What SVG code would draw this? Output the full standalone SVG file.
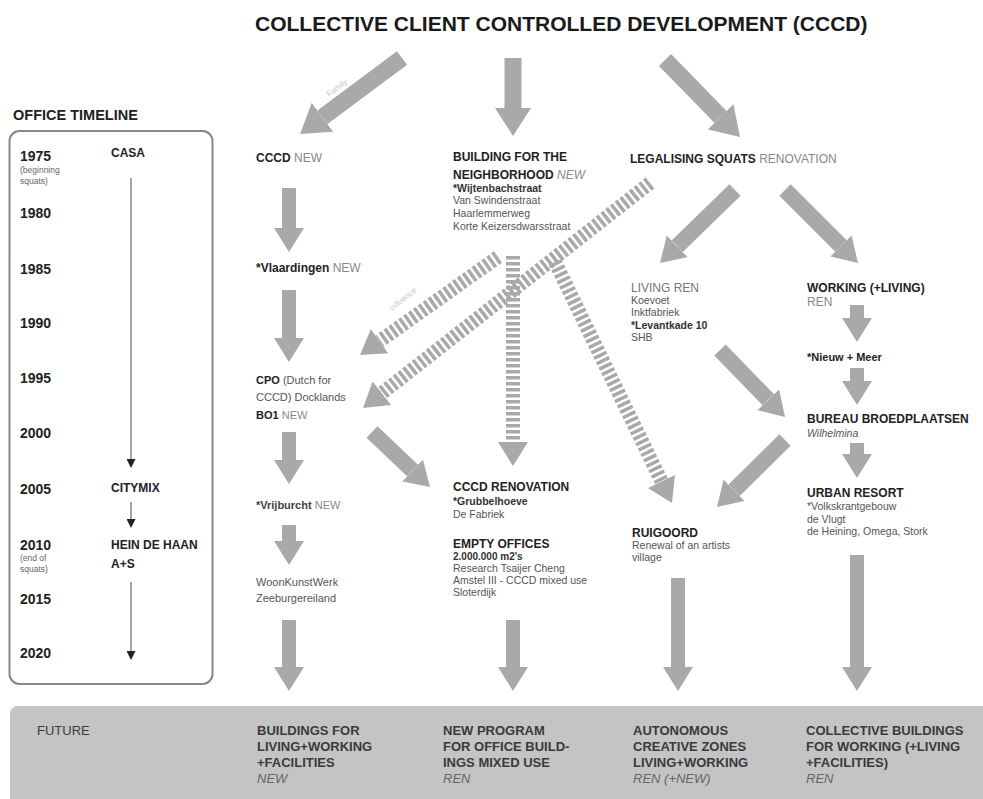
<svg xmlns="http://www.w3.org/2000/svg" width="983" height="799" viewBox="0 0 983 799">
<defs>
<style>
text{font-family:"Liberation Sans",Arial,Helvetica,sans-serif;fill:#222}
.title{font-size:21px;font-weight:bold;fill:#1a1a1a}
.hd{font-size:12px;font-weight:bold}
.ot{font-size:14.5px;font-weight:bold}
.yr{font-size:14px;font-weight:bold}
.tiny{font-size:8.5px;fill:#666}
.sm{font-size:10.5px;fill:#555}
.smb{font-size:10.5px;font-weight:bold;fill:#333}
.rg{font-weight:normal;fill:#888}
.it{font-style:italic;font-weight:normal;fill:#888}
.body{font-size:11px;fill:#555}
.ft{font-size:13px;font-weight:bold;fill:#3a3a3a}
.fti{font-size:13px;font-style:italic;fill:#666}
.lab{font-size:8px;fill:#c8c8c8}
.ar{stroke:#a9a9a9;stroke-width:14;fill:none;marker-end:url(#hs)}
.arb{stroke:#a9a9a9;stroke-width:17;fill:none;marker-end:url(#hb)}
.da{stroke:#a9a9a9;stroke-width:14;fill:none;stroke-dasharray:3.5 2.5;marker-end:url(#hs)}
.tl{stroke:#8c8682;stroke-width:1.5;fill:none;marker-end:url(#tk)}
</style>
<marker id="hs" markerUnits="userSpaceOnUse" markerWidth="24" markerHeight="30" viewBox="0 0 24 30" refX="0" refY="15" orient="auto"><path d="M0,0L24,15L0,30z" fill="#a9a9a9"/></marker>
<marker id="hb" markerUnits="userSpaceOnUse" markerWidth="28" markerHeight="36" viewBox="0 0 28 36" refX="0" refY="18" orient="auto"><path d="M0,0L28,18L0,36z" fill="#a9a9a9"/></marker>
<marker id="tk" markerUnits="userSpaceOnUse" markerWidth="9" markerHeight="9" viewBox="0 0 9 9" refX="0" refY="4.5" orient="auto"><path d="M0,0L9,4.5L0,9z" fill="#222"/></marker>
</defs>
<rect width="983" height="799" fill="#ffffff"/>

<text class="title" x="255" y="31">COLLECTIVE CLIENT CONTROLLED DEVELOPMENT (CCCD)</text>

<g id="timeline">
<text class="ot" x="13" y="120">OFFICE TIMELINE</text>
<rect x="9.5" y="131" width="203" height="553" rx="10" fill="none" stroke="#8c8682" stroke-width="2"/>
<text class="yr" x="20" y="161">1975</text>
<text class="tiny" x="20" y="173">(beginning</text>
<text class="tiny" x="20" y="184">squats)</text>
<text class="yr" x="20" y="218">1980</text>
<text class="yr" x="20" y="274">1985</text>
<text class="yr" x="20" y="328">1990</text>
<text class="yr" x="20" y="383">1995</text>
<text class="yr" x="20" y="438">2000</text>
<text class="yr" x="20" y="494">2005</text>
<text class="yr" x="20" y="550">2010</text>
<text class="tiny" x="20" y="561">(end of</text>
<text class="tiny" x="20" y="572">squats)</text>
<text class="yr" x="20" y="604">2015</text>
<text class="yr" x="20" y="658">2020</text>
<text class="hd" x="111" y="157">CASA</text>
<text class="hd" x="111" y="492">CITYMIX</text>
<text class="hd" x="111" y="549">HEIN DE HAAN</text>
<text class="hd" x="111" y="568">A+S</text>
<line class="tl" x1="131" y1="178" x2="131" y2="459"/>
<line class="tl" x1="131" y1="502" x2="131" y2="519"/>
<line class="tl" x1="131" y1="582" x2="131" y2="651"/>
</g>

<g id="connectors">
<line class="arb" x1="402" y1="58" x2="322.5" y2="117.3"/>
<line class="arb" x1="513" y1="58" x2="513" y2="108"/>
<line class="arb" x1="665" y1="60" x2="720.5" y2="116.9"/>
<line class="ar" x1="289" y1="188" x2="289" y2="228"/>
<line class="ar" x1="289" y1="290" x2="289" y2="338"/>
<line class="ar" x1="289" y1="432" x2="289" y2="460"/>
<line class="ar" x1="289" y1="525" x2="289" y2="541"/>
<line class="ar" x1="289" y1="620" x2="289" y2="667"/>
<line class="ar" x1="372" y1="432" x2="412.6" y2="470.5" style="stroke-width:16"/>
<line class="ar" x1="513" y1="620" x2="513" y2="667"/>
<line class="da" x1="650" y1="183" x2="381.9" y2="393.2"/>
<line class="da" x1="498" y1="257" x2="379.6" y2="341.1"/>
<line class="da" x1="513" y1="256" x2="513" y2="442"/>
<line class="da" x1="555" y1="262" x2="661.5" y2="481.4"/>
<line class="ar" x1="735" y1="190" x2="677.2" y2="246.3" style="stroke-width:16"/>
<line class="ar" x1="785" y1="190" x2="841" y2="246" style="stroke-width:16"/>
<line class="ar" x1="857" y1="305" x2="857" y2="318"/>
<line class="ar" x1="857" y1="368" x2="857" y2="381"/>
<line class="ar" x1="720" y1="350" x2="768.3" y2="399.8" style="stroke-width:16"/>
<line class="ar" x1="857" y1="443" x2="857" y2="454"/>
<line class="ar" x1="785" y1="440" x2="734.1" y2="490.2" style="stroke-width:16"/>
<line class="ar" x1="678" y1="578" x2="678" y2="667"/>
<line class="ar" x1="857" y1="555" x2="857" y2="667"/>
<text class="lab" transform="translate(329,97) rotate(-36)">Family</text>
<text class="lab" transform="translate(392,311) rotate(-38)">influence</text>
</g>

<g id="n-cccd-new"><text class="hd" x="256" y="162">CCCD<tspan class="rg"> NEW</tspan></text></g>
<g id="n-vlaardingen"><text class="hd" x="256" y="272">*Vlaardingen<tspan class="rg"> NEW</tspan></text></g>
<g id="n-cpo">
<text class="hd" x="256" y="384" style="font-size:11px">CPO<tspan style="font-weight:normal;fill:#555"> (Dutch for</tspan></text>
<text class="body" x="256" y="401">CCCD) Docklands</text>
<text class="hd" x="256" y="419" style="font-size:11px">BO1<tspan class="rg"> NEW</tspan></text>
</g>
<g id="n-vrijburcht"><text class="hd" x="256" y="509" style="font-size:11px;fill:#444">*Vrijburcht<tspan class="rg"> NEW</tspan></text></g>
<g id="n-woonkunstwerk">
<text class="body" x="256" y="586">WoonKunstWerk</text>
<text class="body" x="256" y="602">Zeeburgereiland</text>
</g>

<g id="n-neighborhood">
<text class="hd" x="453" y="161">BUILDING FOR THE</text>
<text class="hd" x="453" y="179">NEIGHBORHOOD<tspan class="it"> NEW</tspan></text>
<text class="smb" x="453" y="192">*Wijtenbachstraat</text>
<text class="sm" x="453" y="204">Van Swindenstraat</text>
<text class="sm" x="453" y="217">Haarlemmerweg</text>
<text class="sm" x="453" y="230">Korte Keizersdwarsstraat</text>
</g>
<g id="n-cccd-renovation">
<text class="hd" x="453" y="491">CCCD RENOVATION</text>
<text class="smb" x="453" y="505">*Grubbelhoeve</text>
<text class="sm" x="453" y="518">De Fabriek</text>
</g>
<g id="n-empty-offices">
<text class="hd" x="453" y="548">EMPTY OFFICES</text>
<text class="smb" x="453" y="560" style="font-size:10px">2.000.000 m2's</text>
<text class="sm" x="453" y="572">Research Tsaijer Cheng</text>
<text class="sm" x="453" y="584">Amstel III - CCCD mixed use</text>
<text class="sm" x="453" y="596">Sloterdijk</text>
</g>

<g id="n-legalising"><text class="hd" x="630" y="163">LEGALISING SQUATS<tspan class="rg"> RENOVATION</tspan></text></g>
<g id="n-living">
<text class="hd" x="631" y="292" style="font-weight:normal;fill:#777">LIVING REN</text>
<text class="sm" x="631" y="304">Koevoet</text>
<text class="sm" x="631" y="316">Inktfabriek</text>
<text class="smb" x="631" y="329">*Levantkade 10</text>
<text class="sm" x="631" y="341">SHB</text>
</g>
<g id="n-working">
<text class="hd" x="807" y="292">WORKING (+LIVING)</text>
<text class="hd rg" x="807" y="306">REN</text>
</g>
<g id="n-nieuw-meer"><text class="hd" x="807" y="361" style="font-size:11px">*Nieuw + Meer</text></g>
<g id="n-bureau">
<text class="hd" x="807" y="423">BUREAU BROEDPLAATSEN</text>
<text class="sm" x="807" y="437" style="font-style:italic">Wilhelmina</text>
</g>
<g id="n-urban-resort">
<text class="hd" x="807" y="497">URBAN RESORT</text>
<text class="sm" x="807" y="510">*Volkskrantgebouw</text>
<text class="sm" x="807" y="523">de Vlugt</text>
<text class="sm" x="807" y="535">de Heining, Omega, Stork</text>
</g>
<g id="n-ruigoord">
<text class="hd" x="632" y="537">RUIGOORD</text>
<text class="sm" x="632" y="549">Renewal of an artists</text>
<text class="sm" x="632" y="561">village</text>
</g>

<g id="future">
<rect x="10" y="706" width="990" height="110" rx="8" fill="#c4c4c4"/>
<text class="ft" x="37" y="735" style="font-weight:normal">FUTURE</text>
<g id="f-1">
<text class="ft" x="257" y="735">BUILDINGS FOR</text>
<text class="ft" x="257" y="751">LIVING+WORKING</text>
<text class="ft" x="257" y="767">+FACILITIES</text>
<text class="fti" x="257" y="783">NEW</text>
</g>
<g id="f-2">
<text class="ft" x="443" y="735">NEW PROGRAM</text>
<text class="ft" x="443" y="751">FOR OFFICE BUILD-</text>
<text class="ft" x="443" y="767">INGS MIXED USE</text>
<text class="fti" x="443" y="783">REN</text>
</g>
<g id="f-3">
<text class="ft" x="633" y="735">AUTONOMOUS</text>
<text class="ft" x="633" y="751">CREATIVE ZONES</text>
<text class="ft" x="633" y="767">LIVING+WORKING</text>
<text class="fti" x="633" y="783">REN (+NEW)</text>
</g>
<g id="f-4">
<text class="ft" x="806" y="735">COLLECTIVE BUILDINGS</text>
<text class="ft" x="806" y="751">FOR WORKING (+LIVING</text>
<text class="ft" x="806" y="767">+FACILITIES)</text>
<text class="fti" x="806" y="783">REN</text>
</g>
</g>
</svg>
